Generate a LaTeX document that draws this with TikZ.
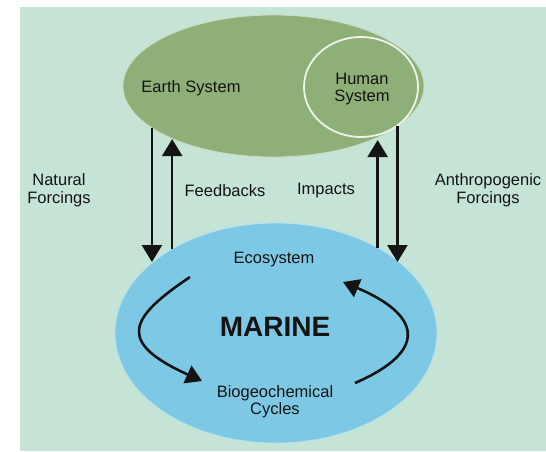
\documentclass[tikz,border=0pt]{standalone}
\usepackage{fontspec}
\setmainfont{Liberation Sans}
\usepackage{xcolor}
\usetikzlibrary{shapes.geometric, arrows.meta, positioning}

\definecolor{bgmint}{RGB}{197,228,213}
\definecolor{earthgreen}{RGB}{142,176,120}
\definecolor{marineblue}{RGB}{125,201,229}
\definecolor{inkdark}{RGB}{20,20,20}

\begin{document}
\begin{tikzpicture}[
  x=1pt, y=-1pt,
  blob/.style={ellipse, inner sep=0pt, outer sep=0pt},
  lbl/.style={font=\fontsize{16.5}{17}\selectfont, text=inkdark, align=center, inner sep=0pt},
  fwd/.style={-{Triangle[length=17pt, width=20pt]}, line width=2.6pt, draw=inkdark},
  cyc/.style={-{Triangle[length=16pt, width=19pt]}, line width=2.6pt, draw=inkdark}
]
\useasboundingbox (0,0) rectangle (546,451);
\fill[bgmint] (20,7) rectangle (546,451);

% the two systems
\node[blob, fill=earthgreen, draw=white!55!earthgreen, line width=0.8pt, minimum width=301, minimum height=142] (earth) at (273.5,86) {};
\node[blob, fill=earthgreen, draw=white!85!earthgreen, line width=1.8pt, minimum width=114, minimum height=100] (human) at (361,87) {};
\node[blob, fill=marineblue, draw=white!45!marineblue, line width=0.8pt, minimum width=322, minimum height=220] (marine) at (276,333) {};

\node[lbl] (earthlbl) at (191,88) {Earth System};
\node[lbl] (humanlbl) at (362,89) {Human\\System};
\node[lbl] (ecolbl) at (274,260) {Ecosystem};
\node[lbl, font=\fontsize{28}{30}\selectfont\bfseries] (marinelbl) at (275,327) {MARINE};
\node[lbl] (biolbl) at (275,402) {Biogeochemical\\Cycles};

\node[lbl, font=\fontsize{16.5}{18.5}\selectfont] (natlbl) at (59,190) {Natural\\Forcings};
\node[lbl] (feedlbl) at (225,191) {Feedbacks};
\node[lbl] (implbl) at (326,191) {Impacts};
\node[lbl, font=\fontsize{16.5}{18.5}\selectfont] (anthlbl) at (488,190) {Anthropogenic\\Forcings};

% forcings and responses
\draw[fwd] (earth.199) -- (earth.199 |- marine.150);
\draw[fwd] (marine.141) -- (marine.141 |- earth.208);
\draw[fwd, shorten >=3pt] (marine.40) -- (marine.40 |- earth.334);
\draw[fwd] (earth.342) -- (earth.342 |- marine.30);

% cycle inside the ocean
\coordinate (ecoout) at (190,277);
\coordinate (bioin) at (202,381);
\coordinate (bioout) at (355,383);
\coordinate (ecoin) at (343,282);
\draw[cyc] (ecoout) .. controls (129,318) and (116,342) .. (bioin);
\draw[cyc] (bioout) .. controls (431,350) and (419,314) .. (ecoin);
\end{tikzpicture}
\end{document}
